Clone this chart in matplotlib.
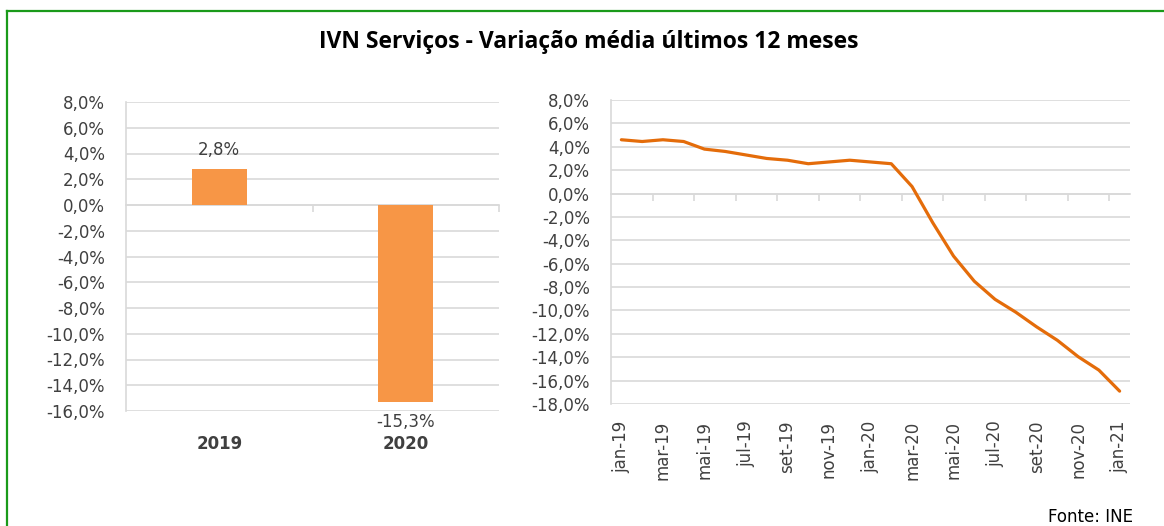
import matplotlib.pyplot as plt
from matplotlib.lines import Line2D
from matplotlib.ticker import FuncFormatter, FixedLocator

plt.rcParams['font.family'] = ['DejaVu Sans']

# annual average (left)
anos = ['2019', '2020']
media_anual = [2.8, -15.3]

# monthly, average of last 12 months (right)
meses = ['jan-19', 'fev-19', 'mar-19', 'abr-19', 'mai-19', 'jun-19', 'jul-19',
         'ago-19', 'set-19', 'out-19', 'nov-19', 'dez-19', 'jan-20', 'fev-20',
         'mar-20', 'abr-20', 'mai-20', 'jun-20', 'jul-20', 'ago-20', 'set-20',
         'out-20', 'nov-20', 'dez-20', 'jan-21']
variacao = [4.6, 4.45, 4.6, 4.45, 3.8, 3.6, 3.3, 3.0, 2.85, 2.55, 2.7, 2.85,
            2.7, 2.55, 0.6, -2.5, -5.35, -7.5, -9.05, -10.15, -11.4, -12.55,
            -13.95, -15.1, -16.9]

bar_color = '#F79646'
line_color = '#E46C0A'
grid_color = '#D9D9D9'
txt_color = '#404040'
fs = 12

pct = FuncFormatter(lambda v, p: ('%.1f%%' % v).replace('.', ','))

W, H = 1164, 526
fig = plt.figure(figsize=(W / 100, H / 100), dpi=100)

# green frame (only top and left edges visible in the original)
fig.add_artist(Line2D([7/W, 7/W], [0, 1 - 11/H], color='#1A9A1A', lw=1.6,
                      transform=fig.transFigure))
fig.add_artist(Line2D([7/W, 1], [1 - 11/H, 1 - 11/H], color='#1A9A1A', lw=1.6,
                      transform=fig.transFigure))

fig.text(589/W, 1 - 42/H, 'IVN Serviços - Variação média últimos 12 meses',
         ha='center', va='center', fontsize=16.5, fontweight='bold',
         family='Open Sans', color='black')


def style_axes(ax, ymin, ymax):
    ax.set_ylim(ymin, ymax)
    ax.set_yticks(range(ymin, ymax + 1, 2))
    ax.yaxis.set_major_formatter(pct)
    ax.grid(axis='y', color=grid_color, lw=1.2)
    ax.set_axisbelow(True)
    for s in ['top', 'right', 'bottom']:
        ax.spines[s].set_visible(False)
    ax.spines['left'].set_color(grid_color)
    ax.spines['left'].set_linewidth(1.2)
    ax.tick_params(axis='y', length=0, labelsize=fs, labelcolor=txt_color, pad=15)
    ax.tick_params(axis='x', length=0)
    # category axis line at zero with small tick marks, like Excel
    zero = (0 - ymin) / (ymax - ymin)
    sec = ax.secondary_xaxis(zero)
    for s in sec.spines.values():
        s.set_color(grid_color)
        s.set_linewidth(1.2)
    sec.tick_params(axis='x', direction='in', length=5, width=1.2, color=grid_color,
                    labeltop=False, labelbottom=False)
    return sec


# left: bars
ax1 = fig.add_axes([126/W, 1 - 411/H, 373/W, 309/H])
x1 = list(range(len(anos)))
ax1.bar(x1, media_anual, width=0.295, color=bar_color)
ax1.set_xlim(-0.5, len(anos) - 0.5)
sec1 = style_axes(ax1, -16, 8)
sec1.xaxis.set_major_locator(FixedLocator([i + 0.5 for i in x1]))
ax1.set_xticks(x1)
ax1.set_xticklabels(anos, fontsize=fs, fontweight='bold', color=txt_color)
ax1.tick_params(axis='x', pad=17)
for xi, v in zip(x1, media_anual):
    lab = ('%.1f%%' % v).replace('.', ',')
    if v >= 0:
        ax1.annotate(lab, (xi, v), xytext=(0, 7), textcoords='offset points',
                     ha='center', va='bottom', fontsize=fs, color=txt_color)
    else:
        ax1.annotate(lab, (xi, v), xytext=(0, -8), textcoords='offset points',
                     ha='center', va='top', fontsize=fs, color=txt_color)

# right: line
ax2 = fig.add_axes([611/W, 1 - 404/H, 519/W, 304/H])
x2 = list(range(len(meses)))
ax2.plot(x2, variacao, color=line_color, lw=2.3, solid_capstyle='round')
ax2.set_xlim(-0.5, len(meses) - 0.5)
sec2 = style_axes(ax2, -18, 8)
sec2.xaxis.set_major_locator(FixedLocator([i - 0.5 for i in x2[2::2]]))
ax2.set_xticks(x2[::2])
ax2.set_xticklabels(meses[::2], rotation=90, fontsize=fs, color=txt_color)
ax2.tick_params(axis='x', pad=12)

fig.text(1133/W, 1 - 517/H, 'Fonte: INE', ha='right', va='center',
         fontsize=fs, color='black')

fig.savefig('out.png', dpi=100)
